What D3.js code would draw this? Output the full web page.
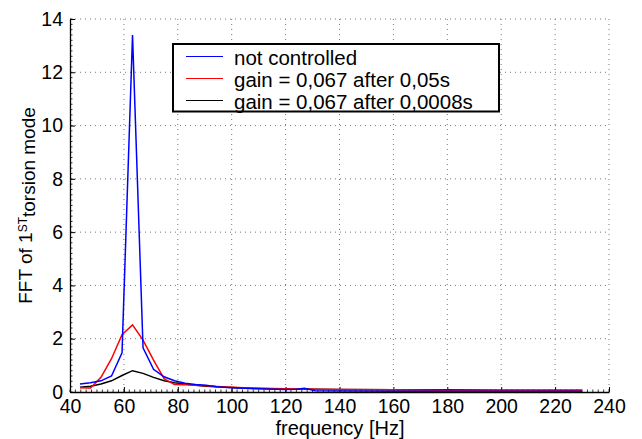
<!DOCTYPE html>
<html>
<head>
<meta charset="utf-8">
<script src="https://cdn.jsdelivr.net/npm/d3@7"></script>
<style>
body { margin: 0; background: #fff; }
text { font-family: "Liberation Sans", Arial, sans-serif; }
</style>
</head>
<body>
<div id="chart"></div>
<script>
var width = 642, height = 439;
var margin = {left: 70, right: 33, top: 19, bottom: 47};

// frequency samples [Hz]
var freq = [43.7, 47.6, 51.5, 55.4, 59.3, 63.2, 67.1, 71.0, 74.9, 78.8, 82.7, 86.6, 90.5, 94.4, 98.3, 102.2,
            110, 120, 124, 127, 131, 140, 160, 180, 200, 220, 230];

var notControlled = [0.30, 0.35, 0.42, 0.60, 1.47, 13.4, 1.66, 0.85, 0.57, 0.42, 0.33, 0.28, 0.25, 0.20, 0.17, 0.15,
                     0.12, 0.09, 0.10, 0.14, 0.05, 0.04, 0.03, 0.03, 0.03, 0.03, 0.03];
var gainLate = [0.16, 0.15, 0.55, 1.25, 2.15, 2.52, 1.95, 1.20, 0.50, 0.28, 0.27, 0.25, 0.23, 0.21, 0.19, 0.17,
                0.14, 0.12, 0.11, 0.11, 0.10, 0.09, 0.08, 0.07, 0.07, 0.06, 0.06];
var gainEarly = [0.18, 0.22, 0.30, 0.42, 0.62, 0.80, 0.70, 0.55, 0.42, 0.35, 0.30, 0.25, 0.22, 0.20, 0.18, 0.16,
                 0.13, 0.11, 0.10, 0.10, 0.10, 0.09, 0.08, 0.08, 0.07, 0.07, 0.07];

var seriesNames = ["not controlled", "gain = 0,067 after 0,05s", "gain = 0,067 after 0,0008s"];
var seriesColors = ["#0000ff", "#ff0000", "#000000"];
var seriesValues = [notControlled, gainLate, gainEarly];

var xTicks = [40, 60, 80, 100, 120, 140, 160, 180, 200, 220, 240];
var yTicks = [0, 2, 4, 6, 8, 10, 12, 14];

var svg = d3.select("#chart").append("svg")
    .attr("width", width)
    .attr("height", height);

svg.append("rect").attr("width", width).attr("height", height).attr("fill", "#fff");

var w = width - margin.left - margin.right,
    h = height - margin.top - margin.bottom;

var g = svg.append("g")
    .attr("transform", "translate(" + margin.left + "," + margin.top + ")");

var xScale = d3.scaleLinear().domain([40, 240]).range([0, w]),
    yScale = d3.scaleLinear().domain([0, 14]).range([h, 0]);

// grid
g.selectAll(".vgrid")
    .data(xTicks.slice(1))
    .enter().append("line")
    .attr("x1", d => xScale(d)).attr("x2", d => xScale(d))
    .attr("y1", 0).attr("y2", h)
    .attr("stroke", "#777").attr("stroke-width", 1)
    .attr("stroke-dasharray", "1,4");

g.selectAll(".hgrid")
    .data(yTicks.slice(1))
    .enter().append("line")
    .attr("x1", 0).attr("x2", w)
    .attr("y1", d => yScale(d)).attr("y2", d => yScale(d))
    .attr("stroke", "#777").attr("stroke-width", 1)
    .attr("stroke-dasharray", "1,4");

// minor ticks
g.selectAll(".xminor")
    .data(d3.range(40, 241, 2))
    .enter().append("line")
    .attr("x1", d => xScale(d)).attr("x2", d => xScale(d))
    .attr("y1", h).attr("y2", h - 2.5)
    .attr("stroke", "#000").attr("stroke-width", 0.8);

g.selectAll(".yminor")
    .data(d3.range(0, 14.01, 0.2))
    .enter().append("line")
    .attr("x1", 0).attr("x2", 2.5)
    .attr("y1", d => yScale(d)).attr("y2", d => yScale(d))
    .attr("stroke", "#000").attr("stroke-width", 0.8);

// axes
var xAxis = g.append("g")
    .attr("transform", "translate(0," + h + ")")
    .call(d3.axisBottom(xScale).tickValues(xTicks).tickSize(-5).tickSizeOuter(0).tickPadding(7));

var yAxis = g.append("g")
    .call(d3.axisLeft(yScale).tickValues(yTicks).tickSize(-5).tickSizeOuter(0).tickPadding(7));

[xAxis, yAxis].forEach(function(a) {
    a.selectAll("text").style("font-size", "19.5px").attr("fill", "#000")
        .style("font-family", "'Liberation Sans', Arial, sans-serif");
    a.select(".domain").attr("stroke-width", 1.3);
});

// lines
var line = d3.line()
    .x((d, i) => xScale(freq[i]))
    .y(d => yScale(d));

[2, 1, 0].forEach(function(k) {
    g.append("path")
        .datum(seriesValues[k])
        .attr("fill", "none")
        .attr("stroke", seriesColors[k])
        .attr("stroke-width", 1.5)
        .attr("d", line);
});

// axis labels
svg.append("text")
    .attr("x", 340)
    .attr("y", 434.5)
    .attr("text-anchor", "middle")
    .style("font-size", "20px")
    .text("frequency [Hz]");

var ylab = svg.append("text")
    .attr("transform", "translate(32," + (margin.top + h / 2) + ") rotate(-90)")
    .attr("text-anchor", "middle")
    .style("font-size", "19px");
ylab.append("tspan").text("FFT of 1");
ylab.append("tspan").attr("dy", "-0.45em").style("font-size", "12px").text("ST");
ylab.append("tspan").attr("dy", "0.45em").text("torsion mode");

// legend
var lg = svg.append("g").attr("transform", "translate(173,44)");
lg.append("rect")
    .attr("width", 326).attr("height", 67.5)
    .attr("fill", "#fff").attr("stroke", "#000").attr("stroke-width", 2);

seriesNames.forEach(function(name, i) {
    var yy = 12.5 + i * 22;
    lg.append("line")
        .attr("x1", 13).attr("x2", 50)
        .attr("y1", yy).attr("y2", yy)
        .attr("stroke", seriesColors[i]).attr("stroke-width", 1.2);
    lg.append("text")
        .attr("x", 61).attr("y", yy + 8)
        .style("font-size", "20.5px")
        .text(name);
});
</script>
</body>
</html>
